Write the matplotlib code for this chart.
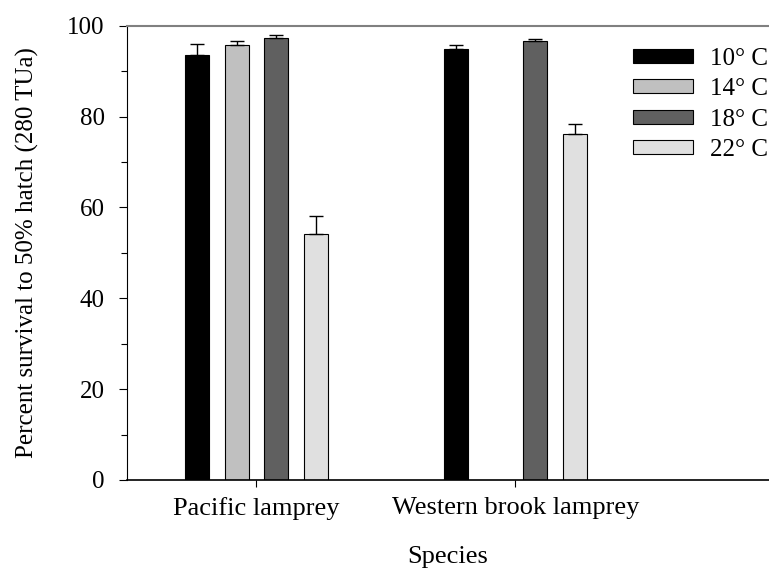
import matplotlib
matplotlib.use("Agg")
import numpy as np
import matplotlib.pyplot as plt

plt.rcParams['font.family'] = ['Liberation Serif', 'DejaVu Serif']

species = ["Pacific lamprey", "Western brook lamprey"]
temps = ["10° C", "14° C", "18° C", "22° C"]
colors = ["#000000", "#c0c0c0", "#606060", "#e0e0e0"]

# survival (%) per temperature, one value per species
t10 = [93.6, 94.9]
t14 = [95.7, np.nan]
t18 = [97.2, 96.7]
t22 = [54.2, 76.1]
# upper error (SE)
e10 = [2.4, 0.9]
e14 = [0.9, np.nan]
e18 = [0.7, 0.4]
e22 = [4.0, 2.2]

means = [t10, t14, t18, t22]
errs = [e10, e14, e18, e22]

fig = plt.figure(figsize=(7.69, 5.73), dpi=100)
ax = fig.add_axes([127/769, 93/573, 642/769, 454.3/573])

x = np.array([0.5, 1.5])
w = 0.0927
step = 0.152
for i in range(4):
    pos = x + (i - 1.5) * step
    m = np.array(means[i], float)
    e = np.array(errs[i], float)
    ax.bar(pos, m, width=w, color=colors[i], edgecolor="black", linewidth=0.8,
           label=temps[i], zorder=2)
    ok = ~np.isnan(m)
    ax.errorbar(pos[ok], m[ok], yerr=[np.zeros(ok.sum()), e[ok]], fmt="none",
                ecolor="black", elinewidth=1, capsize=5, capthick=1, zorder=3)

ax.set_xlim(0, 2.479)
ax.set_ylim(0, 100)
ax.set_xticks(x)
ax.set_xticklabels(species, fontsize=19)
ax.set_yticks([0, 20, 40, 60, 80, 100])
ax.set_yticks([10, 30, 50, 70, 90], minor=True)
ax.tick_params(axis="y", labelsize=18, direction="out", length=6, width=0.8, pad=10)
ax.tick_params(axis="y", which="minor", length=4, width=0.8)
ax.tick_params(axis="x", direction="out", length=5, width=0.8, pad=7)

ax.spines["right"].set_visible(False)
ax.spines["top"].set_color("#808080")
ax.spines["top"].set_linewidth(1.5)
ax.spines["left"].set_linewidth(0.8)
ax.spines["bottom"].set_linewidth(1.2)

ax.set_xlabel("Species", fontsize=19, labelpad=19)
ax.set_ylabel("Percent survival to 50% hatch (280 TUa)", fontsize=18, labelpad=20)

leg = ax.legend(loc="upper left", bbox_to_anchor=(633/769, 525/573),
                bbox_transform=fig.transFigure, frameon=False, fontsize=18,
                handlelength=2.4, handleheight=0.48, labelspacing=0.33,
                handletextpad=0.68, borderaxespad=0, borderpad=0)

fig.savefig("out.png", dpi=100)
